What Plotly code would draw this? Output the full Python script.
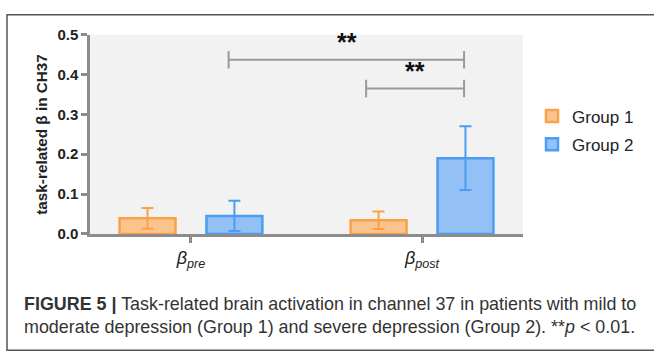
import plotly.graph_objects as go

# ---- data ----
categories = ["<i>β<sub>pre</sub></i>", "<i>β<sub>post</sub></i>"]
group1_mean = [0.039, 0.034]
group1_err = [0.026, 0.022]
group2_mean = [0.045, 0.190]
group2_err = [0.038, 0.080]
series_names = ["Group 1", "Group 2"]
y_ticks = [0.0, 0.1, 0.2, 0.3, 0.4, 0.5]
y_title = "task-related β in CH37"
caption_line1 = "<b>FIGURE 5 |</b> Task-related brain activation in channel 37 in patients with mild to"
caption_line2 = "moderate depression (Group 1) and severe depression (Group 2). **<i>p</i> &lt; 0.01."

W, H = 654, 361
def px_x(x):
    return x / W
def px_y(y):
    return (H - y) / H

org_fill, org_line = "#FBC48C", "#F9A149"
blu_fill, blu_line = "#93C1F6", "#4A9DF2"
bar_w = 0.242
off = 0.188

fig = go.Figure()
fig.add_trace(go.Bar(
    x=categories, y=group1_mean, name=series_names[0], legendgroup="g1",
    width=bar_w, offset=-off - bar_w / 2,
    marker=dict(color=org_fill, line=dict(color=org_line, width=2.5)),
    error_y=dict(type="data", array=group1_err, color=org_line, thickness=2, width=6),
))
fig.add_trace(go.Bar(
    x=categories, y=group2_mean, name=series_names[1], legendgroup="g2",
    width=bar_w, offset=off - bar_w / 2,
    marker=dict(color=blu_fill, line=dict(color=blu_line, width=2.5)),
    error_y=dict(type="data", array=group2_err, color=blu_line, thickness=2, width=6),
))

axis_col = "#8C8C8C"
fig.update_layout(
    width=W, height=H,
    margin=dict(l=0, r=0, t=0, b=0),
    paper_bgcolor="white",
    plot_bgcolor="#F2F2F2",
    barmode="overlay",
    showlegend=True,
    legend=dict(
        x=px_x(532), y=px_y(94), xanchor="left", yanchor="top",
        font=dict(family="Liberation Sans, Arial", size=17, color="#222"),
        bgcolor="rgba(0,0,0,0)", traceorder="grouped", tracegroupgap=3,
    ),
    xaxis=dict(
        domain=[px_x(90), px_x(523)],
        range=[-0.437, 1.437],
        showline=True, linecolor=axis_col, linewidth=2.5,
        ticks="outside", ticklen=6, tickwidth=2.5, tickcolor=axis_col,
        showgrid=False, zeroline=False,
        tickfont=dict(family="Liberation Sans, Arial", size=18, color="#222"),
    ),
    yaxis=dict(
        domain=[px_y(236), px_y(27)],
        range=[0, 0.5],
        tickvals=y_ticks, tickformat=".1f",
        showline=True, linecolor=axis_col, linewidth=2.5,
        ticks="outside", ticklen=6, tickwidth=2.5, tickcolor=axis_col,
        showgrid=False, zeroline=False,
        tickfont=dict(family="Liberation Sans, Arial", size=15, color="#222", weight="bold"),
    ),
)

# y-axis title
fig.add_annotation(
    text=f"<b>{y_title}</b>", textangle=-90,
    xref="paper", yref="paper", x=px_x(42), y=px_y(132), showarrow=False,
    xanchor="center", yanchor="middle",
    font=dict(family="Liberation Sans, Arial", size=15.3, color="#222"),
)

# significance brackets (compare bar centres)
br_col = "#9A9A9A"
brackets = [
    # (x0, x1, y, star_x, star_y)
    (0 + off - 0.025, 1 + off - 0.006, 0.437, 0.675, 0.482),
    (1 - off - 0.054, 1 + off - 0.006, 0.365, 0.97, 0.408),
]
tick_h = 0.022
for x0, x1, yv, sx, sy in brackets:
    fig.add_shape(type="line", xref="x", yref="y", x0=x0, x1=x1, y0=yv, y1=yv,
                  line=dict(color=br_col, width=2))
    for xv in (x0, x1):
        fig.add_shape(type="line", xref="x", yref="y", x0=xv, x1=xv,
                      y0=yv - tick_h, y1=yv + tick_h, line=dict(color=br_col, width=2))
    fig.add_annotation(text="<b>**</b>", xref="x", yref="y", x=sx, y=sy, showarrow=False,
                       font=dict(family="Liberation Sans, Arial", size=25, color="#111"),
                       xanchor="center", yanchor="middle")

# caption
cap_font = dict(family="Liberation Sans, Arial", size=17.9, color="#333")
fig.add_annotation(text=caption_line1, xref="paper", yref="paper", x=px_x(22), y=px_y(310),
                   xanchor="left", yanchor="middle", showarrow=False, font=cap_font)
fig.add_annotation(text=caption_line2, xref="paper", yref="paper", x=px_x(22), y=px_y(334),
                   xanchor="left", yanchor="middle", showarrow=False, font=cap_font)

# outer frame
fig.add_shape(type="rect", xref="paper", yref="paper",
              x0=px_x(7), x1=1.05, y0=px_y(358), y1=px_y(6),
              line=dict(color="#555", width=1.5), layer="below")

fig.write_html("out.html")
